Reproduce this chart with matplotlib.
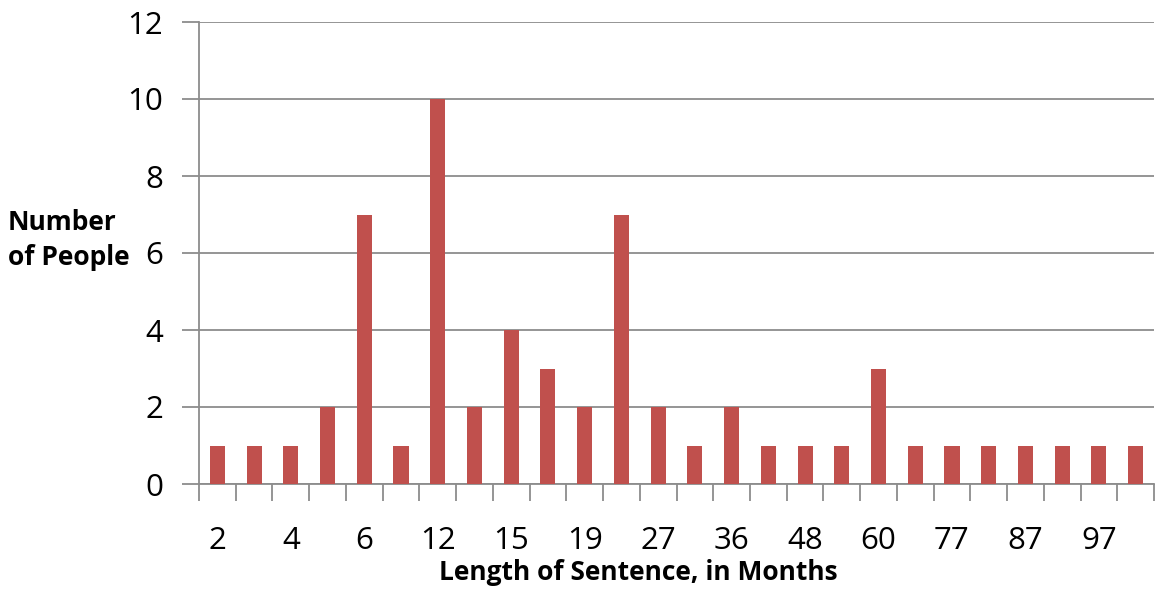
import matplotlib
matplotlib.use("Agg")
import matplotlib.pyplot as plt
import numpy as np

# Sentence lengths (months); only every other label is displayed in the chart
categories = ["2", "3", "4", "5", "6", "9", "12", "13", "15", "18", "19", "24", "27",
              "30", "36", "42", "48", "54", "60", "72", "77", "84", "87", "96", "97", "120"]
people = [1, 1, 1, 2, 7, 1, 10, 2, 4, 3, 2, 7, 2, 1, 2, 1, 1, 1, 3, 1, 1, 1, 1, 1, 1, 1]
y_ticks = [0, 2, 4, 6, 8, 10, 12]

plt.rcParams['font.family'] = ['Open Sans', 'DejaVu Sans']

fig = plt.figure(figsize=(11.55, 5.92), dpi=100)
ax = fig.add_axes([199/1155, 1 - 484/592, (1154-199)/1155, (484-22)/592])

x = np.arange(len(categories))
ax.bar(x, people, width=0.41, color="#C0504D", zorder=3)

ax.set_xlim(-0.5, len(categories) - 0.5)
ax.set_ylim(0, 12)
ax.set_yticks(y_ticks)
ax.set_yticklabels([str(t) for t in y_ticks], fontsize=22.5)
ax.yaxis.grid(True, color="#8C8C8C", linewidth=1.3, zorder=0)
ax.tick_params(axis='y', length=12, width=1.3, color="#8C8C8C", pad=14)

ax.set_xticks(x[::2])
ax.set_xticklabels(categories[::2], fontsize=22.5)
ax.set_xticks(np.arange(len(categories) + 1) - 0.5, minor=True)
ax.tick_params(axis='x', which='major', length=0, pad=30)
ax.tick_params(axis='x', which='minor', length=12, width=1.3, color="#8C8C8C")

for s in ["top", "right"]:
    ax.spines[s].set_visible(False)
for s in ["left", "bottom"]:
    ax.spines[s].set_color("#8C8C8C")
    ax.spines[s].set_linewidth(1.3)

fig.text(638/1155, 1 - 573/592, "Length of Sentence, in Months", fontsize=19,
         fontweight="bold", ha="center", va="center")
fig.text(8/1155, 1 - 240/592, "Number\nof People", fontsize=19, fontweight="bold",
         ha="left", va="center", linespacing=1.35)

fig.savefig("out.png", dpi=100)
